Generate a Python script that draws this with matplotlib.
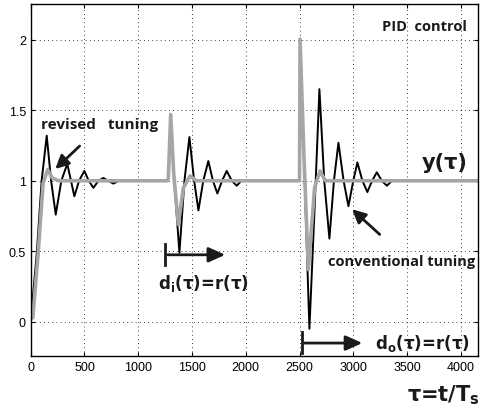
import numpy as np
import matplotlib.pyplot as plt

# conventional tuning (black)
conv_t = [0, 58, 102, 149, 190, 233, 285, 340, 375, 406, 450, 499, 540, 583, 630, 676, 720, 769, 820,
          1270, 1280, 1302, 1340, 1383, 1430, 1476, 1520, 1560, 1605, 1652, 1695, 1736, 1780, 1823, 1870, 1916, 1960,
          2500, 2505, 2550, 2592, 2640, 2685, 2730, 2778, 2820, 2862, 2910, 2955, 3000, 3038, 3085, 3131, 3175,
          3219, 3265, 3312, 3360, 4160]
conv_y = [0.0, 0.5, 1.0, 1.32, 1.0, 0.76, 1.0, 1.12, 1.0, 0.89, 1.0, 1.07, 1.0, 0.95, 1.0, 1.02, 1.0, 0.98, 1.0,
          1.0, 1.02, 1.46, 0.95, 0.49, 1.0, 1.31, 1.0, 0.79, 1.0, 1.14, 1.0, 0.91, 1.0, 1.07, 1.0, 0.965, 1.0,
          1.0, 2.0, 0.95, -0.05, 0.8, 1.65, 1.0, 0.59, 1.0, 1.27, 1.0, 0.82, 1.0, 1.13, 1.0, 0.92, 1.0,
          1.06, 1.0, 0.965, 1.0, 1.0]

# revised tuning (gray)
rev_t = [0, 20, 71, 115, 158, 200, 260,
         1270, 1280, 1302, 1330, 1373, 1420, 1482, 1540,
         2500, 2505, 2540, 2582, 2640, 2691, 2740, 4160]
rev_y = [0.02, 0.03, 0.5, 0.98, 1.08, 1.02, 1.0,
         1.0, 1.02, 1.47, 1.05, 0.69, 0.95, 1.035, 1.0,
         1.0, 2.005, 1.2, 0.37, 0.95, 1.07, 1.0, 1.0]

xticks = [0, 500, 1000, 1500, 2000, 2500, 3000, 3500, 4000]
yticks = [0, 0.5, 1, 1.5, 2]
ytick_labels = ['0', '0.5', '1', '1.5', '2']

fig = plt.figure(figsize=(4.81, 4.10), dpi=100)
ax = fig.add_axes([0.0638, 0.1285, 0.93, 0.859])

ax.plot(conv_t, conv_y, color='black', lw=1.4)
ax.plot(rev_t, rev_y, color='#a6a6a6', lw=2.6)

ax.set_xlim(0, 4160)
ax.set_ylim(-0.245, 2.253)
ax.set_xticks(xticks)
ax.set_yticks(yticks)
ax.set_yticklabels(ytick_labels)
ax.tick_params(direction='in', length=3, labelsize=9, top=True, right=True, width=0.8)
for lab in ax.get_xticklabels() + ax.get_yticklabels():
    lab.set_family('Liberation Sans')
ax.grid(True, color='black', linestyle=(0, (1, 4)), lw=0.6)
for s in ax.spines.values():
    s.set_linewidth(1.0)

word_font = dict(family='Open Sans', weight='bold', color='#1a1a1a')
sym_font = dict(family='DejaVu Sans', weight='bold', color='#1a1a1a')
arrow = dict(arrowstyle='-|>,head_length=0.8,head_width=0.4', color='#1a1a1a', lw=2)
bar_arrow = dict(arrowstyle='-|>,head_length=1.0,head_width=0.45', color='#1a1a1a', lw=2)

ax.text(96, 1.40, 'revised   tuning', fontsize=11, va='center', ha='left', **word_font)
ax.annotate('', xy=(210, 1.07), xytext=(474, 1.26), arrowprops=arrow)

ax.text(4056, 2.10, 'PID  control', fontsize=10.5, va='center', ha='right', **word_font)
ax.text(4065, 1.13, 'y(τ)', fontsize=15, va='center', ha='right', **sym_font)

ax.text(4133, 0.43, 'conventional tuning', fontsize=10.5, va='center', ha='right', **word_font)
ax.annotate('', xy=(2970, 0.811), xytext=(3265, 0.606), arrowprops=arrow)

# disturbance markers
ax.plot([1249, 1249], [0.40, 0.55], color='#1a1a1a', lw=2)
ax.annotate('', xy=(1835, 0.475), xytext=(1249, 0.475), arrowprops=bar_arrow)
ax.text(1184, 0.28, r'd$_{\mathbf{i}}$(τ)=r(τ)', fontsize=12, va='center', ha='left', **sym_font)

ax.plot([2521, 2521], [-0.07, -0.22], color='#1a1a1a', lw=2, clip_on=False)
ax.annotate('', xy=(3110, -0.151), xytext=(2521, -0.151), arrowprops=bar_arrow)
ax.text(3203, -0.15, r'd$_{\mathbf{o}}$(τ)=r(τ)', fontsize=12, va='center', ha='left', **sym_font)

fig.text(0.998, 0.037, r'τ=t/T$_{\mathbf{s}}$', fontsize=15, va='center', ha='right', **sym_font)

fig.savefig('out.png', dpi=100)
